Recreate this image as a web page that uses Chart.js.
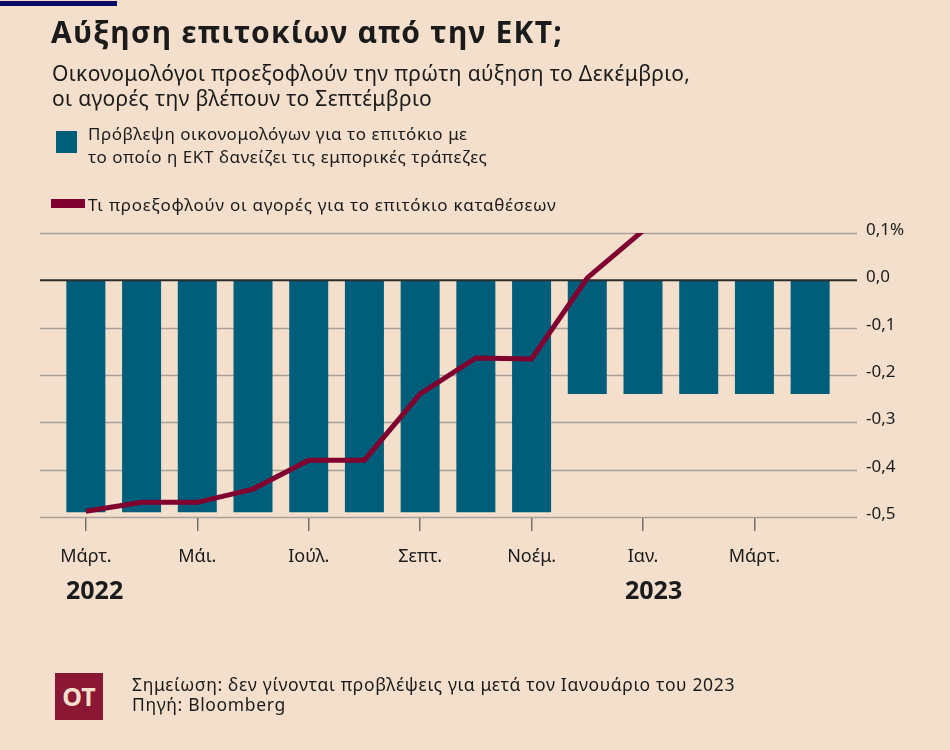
<!DOCTYPE html>
<html>
<head>
<meta charset="utf-8">
<script src="https://cdn.jsdelivr.net/npm/chart.js@4/dist/chart.umd.min.js"></script>
<style>
  body { margin: 0; background: #f3dfcc; }
  #wrap { position: relative; width: 950px; height: 750px; overflow: hidden; background: #f3dfcc;
          font-family: "Noto Sans", sans-serif; color: #1b1b1b; }
  #wrap canvas { position: absolute; left: 0; top: 0; }
  .t { position: absolute; white-space: nowrap; }
</style>
</head>
<body>
<div id="wrap">
  <canvas id="rates" width="950" height="750"></canvas>

  <div class="t" style="left:0;top:1px;width:117px;height:5px;background:#0a0a66"></div>
  <div class="t" style="left:51px;top:15px;font-size:30px;font-weight:700;line-height:34px;letter-spacing:1.25px">Αύξηση επιτοκίων από την ΕΚΤ;</div>
  <div class="t" style="left:52px;top:61px;font-size:21px;line-height:25px;letter-spacing:0.35px">Οικονομολόγοι προεξοφλούν την πρώτη αύξηση το Δεκέμβριο,<br>οι αγορές την βλέπουν το Σεπτέμβριο</div>

  <div class="t" style="left:56px;top:131px;width:21px;height:22px;background:#005e7b"></div>
  <div class="t" style="left:88px;top:122px;font-size:17px;line-height:23px;letter-spacing:0.55px">Πρόβλεψη οικονομολόγων για το επιτόκιο με<br>το οποίο η ΕΚΤ δανείζει τις εμπορικές τράπεζες</div>
  <div class="t" style="left:51px;top:199px;width:34px;height:9px;background:#800030"></div>
  <div class="t" style="left:88px;top:193px;font-size:17px;line-height:23px;letter-spacing:0.75px">Τι προεξοφλούν οι αγορές για το επιτόκιο καταθέσεων</div>

  <div class="t" style="left:66px;top:574px;font-size:25px;font-weight:700;line-height:30px">2022</div>
  <div class="t" style="left:625px;top:574px;font-size:25px;font-weight:700;line-height:30px">2023</div>

  <div class="t" style="left:55px;top:673px;width:48px;height:47px;background:#8a1733;color:#f3dfcc;font-size:25px;font-weight:700;line-height:47px;text-align:center">ΟΤ</div>
  <div class="t" style="left:132px;top:674px;font-size:17.5px;line-height:20px;letter-spacing:0.65px">Σημείωση: δεν γίνονται προβλέψεις για μετά τον Ιανουάριο του 2023<br>Πηγή: Bloomberg</div>
</div>

<script>
// months from March 2022 to April 2023
const months = ['Μάρτ.', 'Απρ.', 'Μάι.', 'Ιούν.', 'Ιούλ.', 'Αύγ.', 'Σεπτ.', 'Οκτ.', 'Νοέμ.', 'Δεκ.', 'Ιαν.', 'Φεβ.', 'Μάρτ.', 'Απρ.'];
// economists' forecast (bars)
const economists = [-0.49, -0.49, -0.49, -0.49, -0.49, -0.49, -0.49, -0.49, -0.49, -0.24, -0.24, -0.24, -0.24, -0.24];
// what markets price in (line), no data after January
const markets = [-0.488, -0.469, -0.469, -0.441, -0.38, -0.38, -0.24, -0.164, -0.166, 0.005, 0.105, null, null, null];
const yMin = -0.5, yMax = 0.1, yStep = 0.1;

const fmt = v => {
  if (Math.abs(v) < 1e-9) return '0,0';
  let s = v.toFixed(1).replace('.', ',');
  if (Math.abs(v - yMax) < 1e-9) s += '%';
  return s;
};

// horizontal rules running past the plot on both sides
const rules = {
  id: 'rules',
  beforeDatasetsDraw(chart) {
    const { ctx, scales: { y } } = chart;
    ctx.save();
    y.ticks.forEach(t => {
      if (Math.abs(t.value) < 1e-9) return;
      const py = Math.round(y.getPixelForValue(t.value)) + 0.5;
      ctx.beginPath();
      ctx.lineWidth = 1.5;
      ctx.strokeStyle = '#aca096';
      ctx.moveTo(40, py); ctx.lineTo(857, py); ctx.stroke();
    });
    ctx.restore();
  },
  afterDatasetDraw(chart, args) {
    if (args.index !== 0) return;
    const { ctx, scales: { y } } = chart;
    const py = y.getPixelForValue(0);
    ctx.save();
    ctx.beginPath();
    ctx.lineWidth = 2;
    ctx.strokeStyle = '#2b2b2b';
    ctx.moveTo(40, py); ctx.lineTo(857, py); ctx.stroke();
    ctx.restore();
  }
};

new Chart(document.getElementById('rates'), {
  type: 'bar',
  data: {
    labels: months,
    datasets: [
      { type: 'bar', data: economists, backgroundColor: '#005e7b',
        categoryPercentage: 1, barPercentage: 0.7, order: 2 },
      { type: 'line', data: markets, borderColor: '#800030', borderWidth: 5,
        pointRadius: 0, tension: 0, spanGaps: false, order: 1 }
    ]
  },
  options: {
    responsive: false,
    animation: false,
    layout: { padding: { top: 233, left: 58, right: 0, bottom: 0 } },
    plugins: { legend: { display: false }, tooltip: { enabled: false } },
    scales: {
      x: {
        offset: true,
        afterFit: s => { s.height = 233; },
        border: { display: false },
        grid: { drawOnChartArea: false, offset: false, tickLength: 14, lineWidth: 1.5,
                color: c => (c.index % 2 === 0 ? '#77706a' : 'rgba(0,0,0,0)') },
        ticks: { autoSkip: false, maxRotation: 0, padding: 15, color: '#1b1b1b',
                 font: { family: 'Noto Sans', size: 18 },
                 callback: (v, i) => (i % 2 === 0 ? months[i] : '') }
      },
      y: {
        position: 'right',
        min: yMin, max: yMax,
        afterFit: s => { s.width = 112; },
        border: { display: false },
        grid: { display: false, drawTicks: false },
        ticks: { stepSize: yStep, padding: 28, labelOffset: -3, color: '#1b1b1b',
                 font: { family: 'Noto Sans', size: 17 },
                 callback: v => fmt(v) }
      }
    }
  },
  plugins: [rules]
});
</script>
</body>
</html>
